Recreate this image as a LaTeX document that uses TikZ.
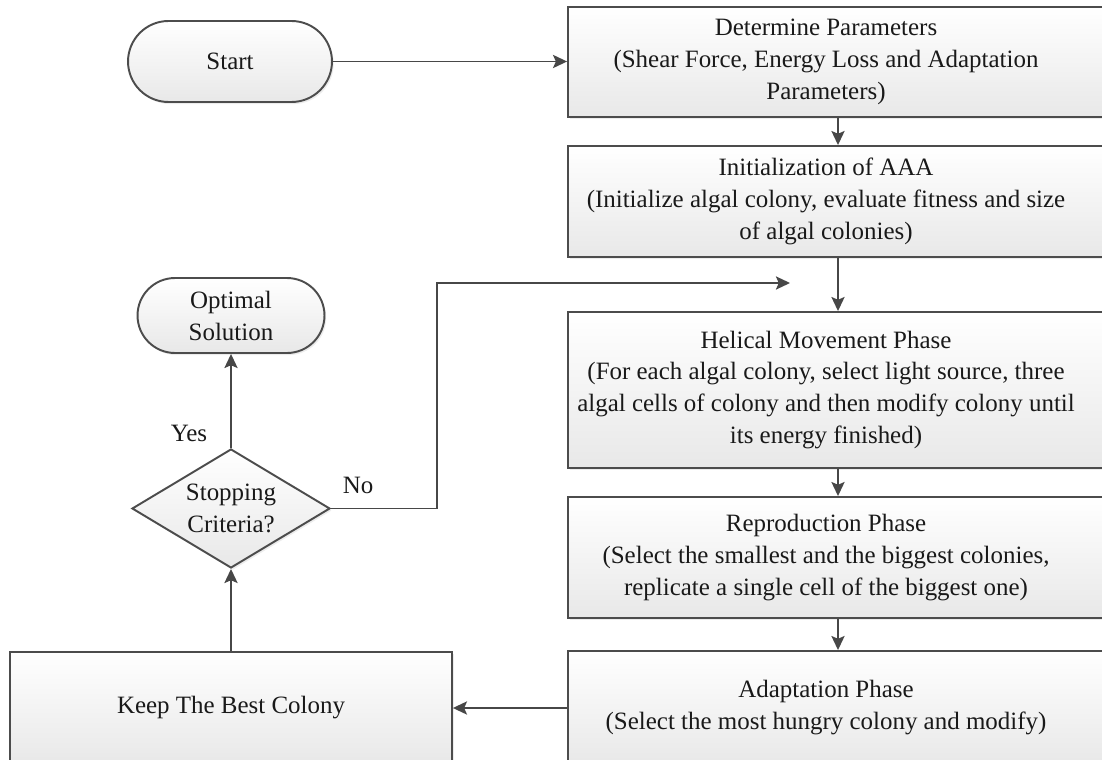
\documentclass[tikz,border=0pt]{standalone}
\usepackage{fontspec}
\setmainfont{Liberation Serif}
\usetikzlibrary{arrows.meta,shapes.geometric,shapes.misc,shadows}

\tikzset{
	box/.style={rectangle, draw=black!70, line width=1.1pt, top color=white, bottom color=black!9,
		drop shadow={opacity=0.15, shadow xshift=1pt, shadow yshift=-1.2pt}, inner sep=0pt},
	phase/.style={box, minimum width=10.8cm},
	term/.style={box, rounded rectangle, align=center, font=\fontsize{14.2}{18.2}\selectfont, text=black!90},
	txt/.style={align=center, font=\fontsize{14.2}{18.2}\selectfont, text=black!90},
	flow/.style={draw=black!72, line width=1.1pt, -{Stealth[length=8pt,width=7.5pt,inset=1.6pt]}}
}

\begin{document}
\begin{tikzpicture}[x=0.02cm, y=-0.02cm]

		\useasboundingbox (0,0) rectangle (1102,760);
		\clip (0,0) rectangle (1102,760);

		\node[term, minimum width=4.08cm, minimum height=1.62cm] (start) at (230,61.5) {Start};
		\node[term, minimum width=3.74cm, minimum height=1.5cm] (opt) at (231,315.5) {Optimal\\Solution};
		\node[term, diamond, aspect=1.66, minimum width=3.96cm, minimum height=2.38cm] (crit) at (231,508.5) {Stopping\\Criteria?};
		\node[box, minimum width=8.84cm, minimum height=2.24cm] (keep) at (231,708) {};
		\node[txt] (keeplbl) at (keep.center) {Keep The Best Colony};

		\node[phase, minimum height=2.2cm] (det) at (838,62) {};
		\node[txt] (detlbl) at ([xshift=-0.24cm]det.center) {Determine Parameters\\(Shear Force, Energy Loss and Adaptation\\Parameters)};

		\node[phase, minimum height=2.22cm] (init) at (838,201.5) {};
		\node[txt] (initlbl) at ([xshift=-0.24cm]init.center) {Initialization of AAA\\(Initialize algal colony, evaluate fitness and size\\of algal colonies)};

		\node[phase, minimum height=3.12cm] (heli) at (838,390) {};
		\node[txt] (helilbl) at ([xshift=-0.24cm]heli.center) {Helical Movement Phase\\(For each algal colony, select light source, three\\algal cells of colony and then modify colony until\\its energy finished)};

		\node[phase, minimum height=2.42cm] (repr) at (838,557.5) {};
		\node[txt] (reprlbl) at ([xshift=-0.24cm]repr.center) {Reproduction Phase\\(Select the smallest and the biggest colonies,\\replicate a single cell of the biggest one)};

		\node[phase, minimum height=2.28cm] (adapt) at (838,708) {};
		\node[txt] (adaptlbl) at ([xshift=-0.24cm]adapt.center) {Adaptation Phase\\(Select the most hungry colony and modify)};

		\draw[flow] (start.east) -- (start.east -| det.west);
		\draw[flow] (det) -- (init);
		\draw[flow] (init) -- (heli);
		\draw[flow] (heli) -- (repr);
		\draw[flow] (repr) -- (adapt);
		\draw[flow] (adapt.west) -- (keep.east);
		\draw[flow] (keep) -- (crit);
		\draw[flow] (crit) -- (opt);

		\coordinate (loop) at (790,283);
		\draw[flow] (crit.east) -- ++(106,0) |- (loop);

		\node[txt] (yes) at (189,433) {Yes};
		\node[txt] (no) at (358,485) {No};

	\end{tikzpicture}
\end{document}
